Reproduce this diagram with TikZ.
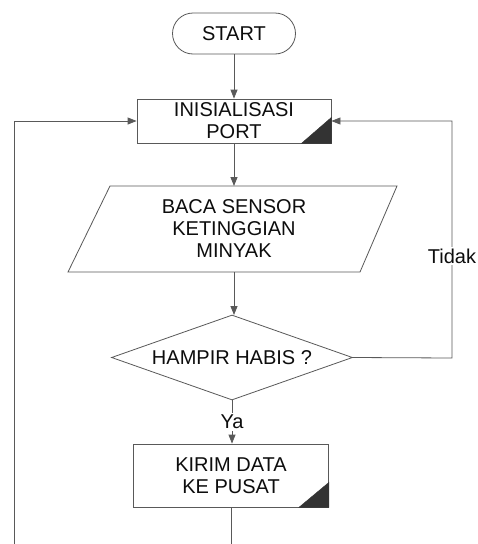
\documentclass[tikz,border=0pt]{standalone}
\usepackage{fontspec}
\setmainfont{Liberation Sans}
\usetikzlibrary{shapes.misc,shapes.geometric,arrows.meta}
\begin{document}
\begin{tikzpicture}[x=1pt,y=-1pt,
  every node/.style={font=\fontsize{20}{22}\selectfont, text=black!95, align=center, inner sep=0pt},
  ln/.style={draw=black!65, line width=0.8pt},
  arr/.style={ln, -{Triangle[length=9pt,width=7pt]}},
  term/.style={ln, rounded rectangle, minimum width=123pt, minimum height=41pt},
  proc/.style={ln, rectangle},
  dec/.style={ln, diamond, aspect=2.8},
  lbl/.style={fill=white, inner sep=2pt},
  corner/.style={fill=black!80, draw=black!80}
]
\useasboundingbox (0,0) rectangle (478,544);
\fill[white] (0,0) rectangle (478,544);

\node[term] (start) at (234,33.5) {START};
\node[proc, minimum width=194pt, minimum height=44pt] (init) at (234,121) {INISIALISASI\\PORT};
\fill[corner] (init.south east) -- ++(-30,0) -- ++(30,-26) -- cycle;

\node[minimum width=250pt, minimum height=86pt] (read) at (234,229) {BACA SENSOR\\KETINGGIAN\\MINYAK};
\draw[ln] (110,186) -- (397,186) -- (360,272) -- (68,272) -- cycle;

\node[dec, minimum width=241pt, minimum height=85pt] (dec) at (232,357.5) {HAMPIR HABIS ?};

\node[proc, minimum width=195pt, minimum height=63pt] (kirim) at (231,475.5) {KIRIM DATA\\KE PUSAT};
\fill[corner] (kirim.south east) -- ++(-30,0) -- ++(30,-25) -- cycle;

\coordinate (rgt) at (452,358);
\coordinate (lftbot) at (14,544);
\coordinate (midbot) at (231,544);

\draw[arr] (start.south) -- (start.south |- init.north);
\draw[arr] (init.south) -- (init.south |- 186,186);
\draw[arr] (234,272) -- (234,315);
\draw[arr] (dec.south) -- node[lbl, pos=0.5] {Ya} (dec.south |- kirim.north);
\draw[arr] (dec.east) -- (rgt) -- node[lbl, pos=0.43] {Tidak} (rgt |- init.east) -- (init.east);
\draw[arr] (lftbot) -- (lftbot |- init.west) -- (init.west);
\draw[ln] (kirim.south -| midbot) -- (midbot);
\end{tikzpicture}
\end{document}
